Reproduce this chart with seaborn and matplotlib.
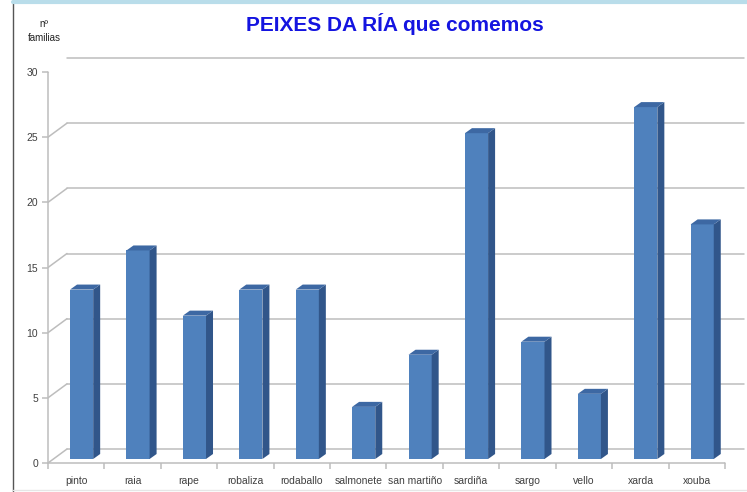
import numpy as np
import matplotlib
matplotlib.use("Agg")
import matplotlib.pyplot as plt
import seaborn as sns
from matplotlib.patches import Polygon
from matplotlib.lines import Line2D
from matplotlib.transforms import ScaledTranslation, IdentityTransform

peixes = ["pinto", "raia", "rape", "robaliza", "rodaballo", "salmonete",
          "san martiño", "sardiña", "sargo", "vello", "xarda", "xouba"]
familias = [13, 16, 11, 13, 13, 4, 8, 25, 9, 5, 27, 18]
yticks = [0, 5, 10, 15, 20, 25, 30]


def main():
    sns.set_style("white")
    plt.rcParams['font.family'] = ["Liberation Sans", "DejaVu Sans"]

    fig = plt.figure(figsize=(7.47, 4.92), dpi=100)
    ax = fig.add_axes([48 / 747, 29 / 492, 677 / 747, 391 / 492])

    front = "#4F81BD"
    side = "#31568A"
    top = "#3D68A3"
    grid = "#BDBDBD"

    sns.barplot(x=peixes, y=familias, color=front, width=0.41,
                saturation=1, ax=ax, zorder=3)
    ax.set_xlim(-0.5, len(peixes) - 0.5)
    ax.set_ylim(0, 30)
    for s in ax.spines.values():
        s.set_visible(False)

    # 3d offsets in pixels
    back = ScaledTranslation(19 / 100, 14 / 100, fig.dpi_scale_trans)
    mid = ScaledTranslation(5.4 / 100, 4 / 100, fig.dpi_scale_trans)
    ddx, ddy = 7, 5

    # back wall and left wall
    xl, xr = ax.get_xlim()
    for v in yticks:
        ax.plot([xl, xr], [v, v], color=grid, lw=1.1,
                transform=ax.transData + back, zorder=1, clip_on=False)
        p = ax.transData.transform((xl, v))
        ax.add_line(Line2D([p[0], p[0] + 19], [p[1], p[1] + 14], color=grid,
                           lw=1.1, transform=IdentityTransform(), zorder=1))
    # floor right edge
    p = ax.transData.transform((xr, 0))
    ax.add_line(Line2D([p[0], p[0] + 19], [p[1], p[1] + 14], color=grid,
                       lw=1.1, transform=IdentityTransform(), zorder=1))
    ax.plot([xl, xr], [0, 0], color=grid, lw=1.1, zorder=2, clip_on=False)
    ax.plot([xl, xl], [0, 30], color=grid, lw=1.1, zorder=2, clip_on=False)

    # bars: shift to mid depth and add side and top faces
    for bar in list(ax.patches):
        bar.set_transform(ax.transData + mid)
        bar.set_edgecolor("none")
        x0, y0 = bar.get_x(), bar.get_y()
        x1, y1 = x0 + bar.get_width(), y0 + bar.get_height()
        tr = ax.transData + mid
        a = tr.transform((x0, y0))
        b = tr.transform((x1, y1))
        sface = [(b[0], a[1]), (b[0] + ddx, a[1] + ddy),
                 (b[0] + ddx, b[1] + ddy), (b[0], b[1])]
        tface = [(a[0], b[1]), (b[0], b[1]),
                 (b[0] + ddx, b[1] + ddy), (a[0] + ddx, b[1] + ddy)]
        ax.add_patch(Polygon(sface, closed=True, facecolor=side,
                             edgecolor="none", transform=IdentityTransform(),
                             zorder=3))
        ax.add_patch(Polygon(tface, closed=True, facecolor=top,
                             edgecolor="none", transform=IdentityTransform(),
                             zorder=3))

    ax.set_yticks(yticks)
    ax.set_xticks(np.arange(-0.5, len(peixes)), minor=True)
    ax.tick_params(axis="y", length=4, color=grid, width=1.1, pad=3,
                   labelsize=7.5, labelcolor="#404040", left=True)
    ax.tick_params(axis="x", which="major", length=0, pad=9,
                   labelsize=7.5, labelcolor="#404040")
    ax.tick_params(axis="x", which="minor", length=4, color=grid,
                   width=1.1, bottom=True)
    ax.set_xlabel("")
    ax.set_ylabel("")

    fig.text(395 / 747, 1 - 24 / 492, "PEIXES DA RÍA que comemos",
             ha="center", va="center", fontsize=15, fontweight="bold",
             color="#1414E0")
    fig.text(44 / 747, 1 - 31 / 492, "nº\nfamilias", ha="center",
             va="center", fontsize=7, linespacing=1.6, color="#222222")

    # frame lines of the original screenshot
    fig.add_artist(Line2D([13 / 747, 13 / 747], [0, 1], color="#555555",
                          lw=1, transform=fig.transFigure))
    fig.add_artist(Line2D([13 / 747, 1], [1 - 1.5 / 492, 1 - 1.5 / 492],
                          color="#B9DDEA", lw=3, transform=fig.transFigure))
    fig.add_artist(Line2D([13 / 747, 1], [2 / 492, 2 / 492],
                          color="#E6E6E6", lw=1, transform=fig.transFigure))

    fig.savefig("out.png", dpi=100)


if __name__ == "__main__":
    main()
